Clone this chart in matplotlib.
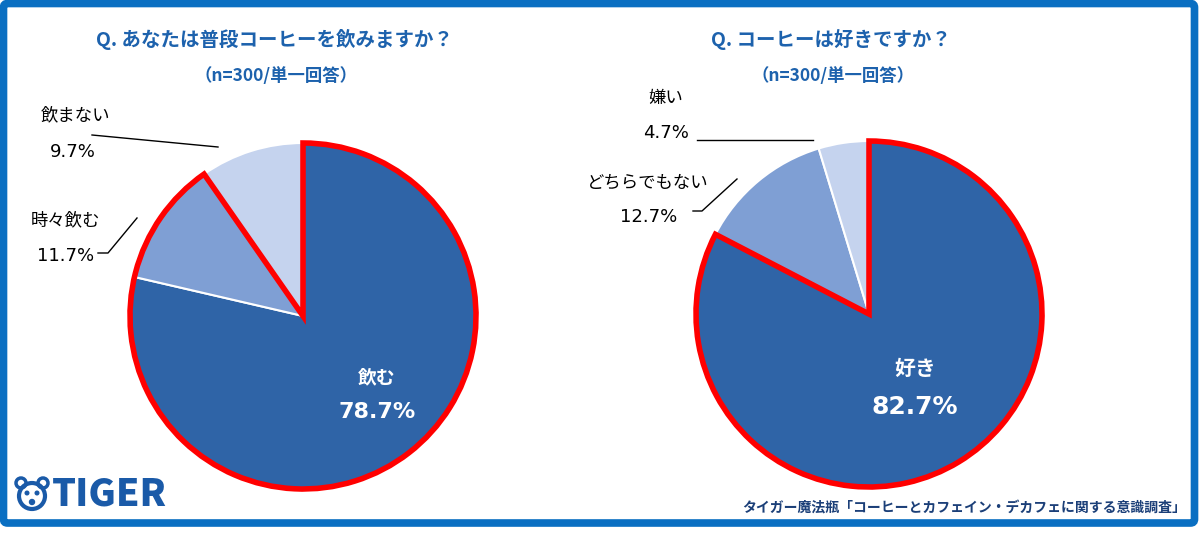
import matplotlib
matplotlib.use("Agg")
import matplotlib.pyplot as plt
from matplotlib.patches import Wedge, FancyBboxPatch, Circle

plt.rcParams["font.family"] = ["Noto Sans CJK JP", "DejaVu Sans"]
NUM_FONT = ["DejaVu Sans", "Noto Sans CJK JP"]

W, H = 1200, 543

q1_title = "Q. あなたは普段コーヒーを飲みますか？"
q1_labels = ["飲む", "時々飲む", "飲まない"]
q1_values = [78.7, 11.7, 9.7]
q1_highlight = 2  # first n wedges inside red outline

q2_title = "Q. コーヒーは好きですか？"
q2_labels = ["好き", "どちらでもない", "嫌い"]
q2_values = [82.7, 12.7, 4.7]
q2_highlight = 1

subtitle = "（n=300/単一回答）"
source = "タイガー魔法瓶「コーヒーとカフェイン・デカフェに関する意識調査」"

COLORS = ["#2f64a7", "#7f9fd4", "#c5d3ee"]
BLUE_T = "#1d62ad"


def Y(y):  # pixel row -> data y
    return H - y


fig = plt.figure(figsize=(12, 5.43), dpi=100)
ax = fig.add_axes([0, 0, 1, 1])

# frame
ax.add_patch(FancyBboxPatch((3.5, Y(523)), 1191, 519.5,
                            boxstyle="round,pad=0,rounding_size=4",
                            fill=False, ec="#0a6fc2", lw=5.5))


def draw_pie(cx, cy, r, tx, title, labels, values, n_hi):
    ax.pie(values, startangle=90, counterclock=False, colors=COLORS,
           center=(cx, Y(cy)), radius=r, frame=True,
           wedgeprops=dict(edgecolor="white", linewidth=1.5))
    frac = sum(values[:n_hi]) / sum(values)
    ax.add_patch(Wedge((cx, Y(cy)), r, 90 - 360 * frac, 90, fill=False,
                       ec="#ff0000", lw=4, joinstyle="miter", zorder=5))
    ax.text(tx, Y(40), title, ha="center", va="center", fontsize=14,
            fontweight="bold", color=BLUE_T)
    ax.text(tx + 2, Y(76), subtitle, ha="center", va="center", fontsize=12.5,
            fontweight="bold", color=BLUE_T)


draw_pie(303, 316, 173, 274, q1_title, q1_labels, q1_values, q1_highlight)
draw_pie(869, 314, 173, 831, q2_title, q2_labels, q2_values, q2_highlight)
ax.set_xlim(0, W)
ax.set_ylim(0, H)
ax.set_aspect("equal")
ax.axis("off")

# inner labels
for x, y1, y2, fs1, fs2, lab, val in [
        (377, 378, 412, 13.5, 16, q1_labels[0], q1_values[0]),
        (915, 368, 407, 15, 18, q2_labels[0], q2_values[0])]:
    ax.text(x, Y(y1), lab, ha="center", va="center", fontsize=fs1,
            fontweight="bold", color="white", zorder=6)
    ax.text(x, Y(y2), f"{val:.1f}%", ha="center", va="center", fontsize=fs2,
            fontweight="bold", color="white", zorder=6, family=NUM_FONT)

# outer labels
outer = [(75, 115, 73, 152, q1_labels[2], q1_values[2]),
         (65, 220, 66, 256, q1_labels[1], q1_values[1]),
         (666, 98, 666, 133, q2_labels[2], q2_values[2]),
         (648, 183, 649, 217, q2_labels[1], q2_values[1])]
for x1, y1, x2, y2, lab, val in outer:
    ax.text(x1, Y(y1), lab, ha="center", va="center", fontsize=12.5,
            color="black")
    ax.text(x2, Y(y2), f"{val:.1f}%", ha="center", va="center", fontsize=13,
            color="black", family=NUM_FONT)

leaders = [([92, 218], [135, 147]),
           ([98, 108, 137], [253, 253, 218]),
           ([697, 813], [140, 140]),
           ([693, 702, 737], [211, 211, 179])]
for xs, ys in leaders:
    ax.plot(xs, [Y(v) for v in ys], color="black", lw=1.0, zorder=4)

# source
ax.text(1186, Y(508), source, ha="right", va="center", fontsize=10,
        fontweight="bold", color="#1b3f78")

# logo
ax.text(52, Y(494), "TIGER", ha="left", va="center", fontsize=27,
        fontweight="heavy", color="#1a5aa8")
ax.add_patch(Circle((32, Y(496)), 13, fill=False, ec="#1a5aa8", lw=3))
ax.add_patch(Circle((21, Y(483)), 5, fill=False, ec="#1a5aa8", lw=2.5))
ax.add_patch(Circle((43, Y(483)), 5, fill=False, ec="#1a5aa8", lw=2.5))
ax.add_patch(Circle((27, Y(493)), 1.8, color="#1a5aa8"))
ax.add_patch(Circle((37, Y(493)), 1.8, color="#1a5aa8"))
ax.add_patch(Circle((32, Y(502)), 2.5, color="#1a5aa8"))

fig.savefig("out.png", dpi=100, facecolor="white")
